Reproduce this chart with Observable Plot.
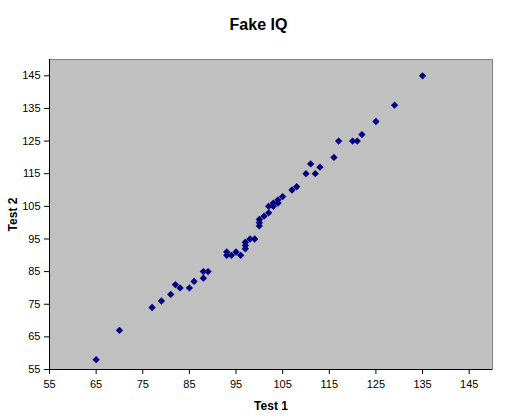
<!DOCTYPE html>
<html>
<head>
<meta charset="utf-8">
<script src="https://cdn.jsdelivr.net/npm/d3@7"></script>
<script src="https://cdn.jsdelivr.net/npm/@observablehq/plot@0.6"></script>
<style>
  html, body { margin: 0; padding: 0; background: #fff; }
  #wrap { position: relative; width: 507px; height: 420px; font-family: "Liberation Sans", Arial, sans-serif; }
  #title { position: absolute; left: 0; top: 16px; width: 517px; text-align: center; font-size: 16px; font-weight: bold; color: #000; }
  g[aria-label="x-axis label"] text, g[aria-label="y-axis label"] text { font-weight: bold; font-size: 12px; }
</style>
</head>
<body>
<div id="wrap"><div id="title">Fake IQ</div></div>
<script>
const test1 = [65, 70, 77, 79, 81, 82, 83, 85, 86, 88, 88, 89,
  93, 93, 94, 95, 96, 97, 97, 97, 98, 99,
  100, 100, 100, 101, 102, 102, 103, 103, 104, 104, 105,
  107, 108, 110, 111, 112, 113, 116, 117, 120, 121, 122, 125, 129, 135];
const test2 = [58, 67, 74, 76, 78, 81, 80, 80, 82, 83, 85, 85,
  91, 90, 90, 91, 90, 92, 93, 94, 95, 95,
  99, 100, 101, 102, 103, 105, 105, 106, 106, 107, 108,
  110, 111, 115, 118, 115, 117, 120, 125, 125, 125, 127, 131, 136, 145];
const ticks = [55, 65, 75, 85, 95, 105, 115, 125, 135, 145];

const data = test1.map((t, i) => ({t1: t, t2: test2[i]}));

const chart = Plot.plot({
  width: 507,
  height: 420,
  marginLeft: 49,
  marginRight: 15,
  marginTop: 59,
  marginBottom: 51,
  style: {fontFamily: "Liberation Sans, Arial, sans-serif", fontSize: "11px", background: "transparent", color: "#000"},
  x: {domain: [55, 150], ticks: ticks},
  y: {domain: [55, 150], ticks: ticks},
  marks: [
    Plot.frame({fill: "#c0c0c0", stroke: "#808080", strokeWidth: 1}),
    Plot.axisX({ticks: ticks, tickSize: 5, tickPadding: 6, label: "Test 1", labelAnchor: "center", labelArrow: "none", labelOffset: 40}),
    Plot.axisY({ticks: ticks, tickSize: 5, tickPadding: 4, label: "Test 2", labelAnchor: "center", labelArrow: "none", labelOffset: 41}),
    Plot.ruleX([55], {stroke: "#000"}),
    Plot.ruleY([55], {stroke: "#000"}),
    Plot.dot(data, {x: "t1", y: "t2", symbol: "diamond2", fill: "#000080", stroke: "none", r: 3.3})
  ]
});
document.getElementById("wrap").appendChild(chart);
chart.style.position = "absolute";
chart.style.left = "0";
chart.style.top = "0";
</script>
</body>
</html>
